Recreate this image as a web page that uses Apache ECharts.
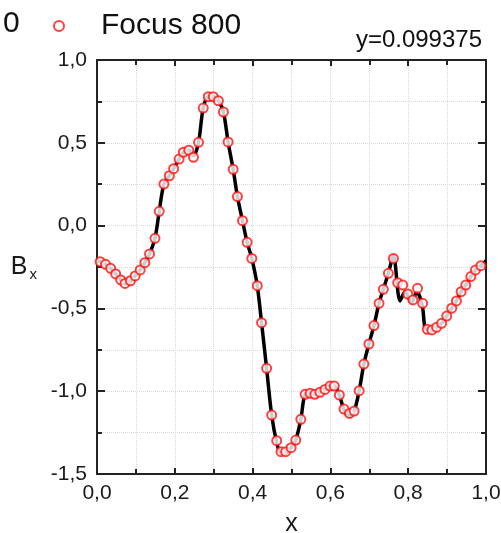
<!DOCTYPE html>
<html>
<head>
<meta charset="utf-8">
<script src="https://cdn.jsdelivr.net/npm/echarts@6/dist/echarts.min.js"></script>
<style>
  html, body { margin: 0; padding: 0; background: #fff; }
  #chart { width: 501px; height: 533px; }
</style>
</head>
<body>
<div id="chart"></div>
<script>
// Focus 800 markers (x, Bx)
const pointX = [0.008, 0.022, 0.035, 0.048, 0.061, 0.072, 0.086, 0.098, 0.111, 0.123,
  0.135, 0.149, 0.160, 0.172, 0.186, 0.197, 0.211, 0.222, 0.236, 0.248,
  0.261, 0.273, 0.286, 0.299, 0.312, 0.325, 0.337, 0.350, 0.361, 0.374,
  0.386, 0.398, 0.412, 0.423, 0.436, 0.449, 0.462, 0.473, 0.485, 0.499,
  0.511, 0.524, 0.535, 0.548, 0.560, 0.573, 0.586, 0.599, 0.610, 0.623,
  0.635, 0.649, 0.661, 0.674, 0.686, 0.699, 0.712, 0.725, 0.736, 0.749,
  0.762, 0.773, 0.786, 0.799, 0.812, 0.824, 0.837, 0.849, 0.861, 0.873,
  0.886, 0.899, 0.912, 0.924, 0.936, 0.948, 0.961, 0.973, 0.987];
const pointY = [-0.218, -0.234, -0.258, -0.292, -0.328, -0.349, -0.333, -0.304, -0.268, -0.224,
  -0.171, -0.077, 0.086, 0.251, 0.301, 0.344, 0.402, 0.443, 0.455, 0.412,
  0.503, 0.710, 0.778, 0.778, 0.754, 0.686, 0.505, 0.340, 0.175, 0.030,
  -0.101, -0.198, -0.363, -0.586, -0.862, -1.144, -1.299, -1.365, -1.365, -1.341,
  -1.295, -1.170, -1.019, -1.013, -1.019, -1.007, -0.989, -0.969, -0.969, -1.023,
  -1.108, -1.134, -1.120, -0.997, -0.836, -0.715, -0.604, -0.469, -0.385, -0.288,
  -0.198, -0.345, -0.359, -0.413, -0.449, -0.379, -0.469, -0.626, -0.630, -0.614,
  -0.590, -0.546, -0.499, -0.455, -0.399, -0.359, -0.308, -0.268, -0.242];

// reference solid curve
const curveX = [0.0, 0.008, 0.022, 0.035, 0.048, 0.061, 0.072, 0.086, 0.098, 0.111, 0.123,
  0.135, 0.149, 0.160, 0.172, 0.186, 0.197, 0.211, 0.222, 0.236, 0.248,
  0.261, 0.273, 0.286, 0.299, 0.312, 0.325, 0.337, 0.350, 0.361, 0.374,
  0.386, 0.398, 0.412, 0.423, 0.436, 0.449, 0.462, 0.473, 0.485, 0.499,
  0.511, 0.524, 0.535, 0.548, 0.560, 0.573, 0.586, 0.599, 0.610, 0.623,
  0.635, 0.649, 0.661, 0.674, 0.686, 0.699, 0.712, 0.725, 0.736, 0.749,
  0.762, 0.779, 0.792, 0.809, 0.822, 0.836, 0.843, 0.849, 0.861, 0.873,
  0.886, 0.899, 0.912, 0.924, 0.936, 0.948, 0.961, 0.973, 0.987, 1.0];
const curveY = [-0.212, -0.218, -0.234, -0.258, -0.292, -0.328, -0.352, -0.336, -0.304, -0.268, -0.224,
  -0.171, -0.077, 0.086, 0.251, 0.301, 0.344, 0.402, 0.443, 0.455, 0.420,
  0.503, 0.710, 0.778, 0.778, 0.754, 0.686, 0.505, 0.340, 0.175, 0.030,
  -0.101, -0.198, -0.363, -0.586, -0.862, -1.144, -1.310, -1.375, -1.375, -1.341,
  -1.295, -1.170, -1.019, -1.013, -1.019, -1.007, -0.989, -0.969, -0.969, -1.023,
  -1.112, -1.150, -1.120, -0.997, -0.836, -0.715, -0.604, -0.469, -0.385, -0.288,
  -0.180, -0.455, -0.400, -0.465, -0.400, -0.480, -0.620, -0.628, -0.630, -0.614,
  -0.590, -0.546, -0.499, -0.455, -0.399, -0.359, -0.308, -0.268, -0.242, -0.212];

const xTicks = { min: 0, max: 1, interval: 0.2 };
const yTicks = { min: -1.5, max: 1.0, interval: 0.5 };

const FONT = 'Liberation Sans';
const fmt = v => v.toFixed(1).replace('.', ',');
const pairs = (xs, ys) => xs.map((x, i) => [x, ys[i]]);

const gridLine = { show: true, lineStyle: { color: '#d8d8d8', type: 'dotted', width: 1 } };
const frameLine = { show: true, onZero: false, lineStyle: { color: '#222', width: 2 } };

function xAxis(pos, withLabel) {
  return {
    type: 'value', position: pos, ...xTicks,
    axisLine: frameLine,
    axisTick: { show: true, inside: true, length: 6, lineStyle: { color: '#222', width: 2 } },
    minorTick: { show: true, splitNumber: 2, length: 5, lineStyle: { color: '#222', width: 2 } },
    axisLabel: { show: withLabel, formatter: fmt, color: '#1a1a1a', fontSize: 21, fontFamily: FONT, margin: 9 },
    splitLine: { ...gridLine, show: withLabel },
    minorSplitLine: { ...gridLine, show: withLabel },
    name: withLabel ? 'x' : '', nameLocation: 'middle', nameGap: 38,
    nameTextStyle: { color: '#1a1a1a', fontSize: 25, fontFamily: FONT }
  };
}

function yAxis(pos, withLabel) {
  return {
    type: 'value', position: pos, ...yTicks,
    axisLine: frameLine,
    axisTick: { show: true, inside: true, length: 8, lineStyle: { color: '#222', width: 2 } },
    minorTick: { show: true, splitNumber: 2, length: 5, lineStyle: { color: '#222', width: 2 } },
    axisLabel: { show: withLabel, formatter: fmt, color: '#1a1a1a', fontSize: 21, fontFamily: FONT, margin: 10 },
    splitLine: { ...gridLine, show: withLabel },
    minorSplitLine: { ...gridLine, show: withLabel },
    name: withLabel ? '{b|B}{s|x}' : '', nameLocation: 'middle', nameRotate: 0, nameGap: 60,
    nameTextStyle: {
      rich: {
        b: { fontSize: 25, fontFamily: FONT, color: '#1a1a1a' },
        s: { fontSize: 15, fontFamily: FONT, color: '#1a1a1a', padding: [16, 0, 0, 2] }
      }
    }
  };
}

const chart = echarts.init(document.getElementById('chart'), null, { renderer: 'canvas' });
chart.setOption({
  backgroundColor: '#fff',
  animation: false,
  grid: { left: 97, right: 15, top: 60, bottom: 59, outerBoundsMode: 'none' },
  legend: {
    data: ['Focus 800'], left: 48, top: 6, itemWidth: 10, itemHeight: 10,
    textStyle: { fontSize: 30, fontFamily: FONT, color: '#111', padding: [0, 0, 0, 32] }
  },
  graphic: [
    { type: 'text', left: 3, top: 9, style: { text: '0', fontSize: 30, fontFamily: FONT, fill: '#111' } },
    { type: 'text', right: 19, top: 28, style: { text: 'y=0.099375', fontSize: 24, fontFamily: FONT, fill: '#111' } }
  ],
  xAxis: [xAxis('bottom', true), xAxis('top', false)],
  yAxis: [yAxis('left', true), yAxis('right', false)],
  series: [
    {
      name: 'curve', type: 'line', smooth: 0.3, showSymbol: false,
      data: pairs(curveX, curveY),
      lineStyle: { color: '#000', width: 3.5 }, z: 2
    },
    {
      name: 'Focus 800', type: 'scatter', symbol: 'emptyCircle', symbolSize: 9,
      data: pairs(pointX, pointY),
      itemStyle: { color: '#ff1010', borderWidth: 2 }, z: 3
    }
  ]
});
</script>
</body>
</html>
